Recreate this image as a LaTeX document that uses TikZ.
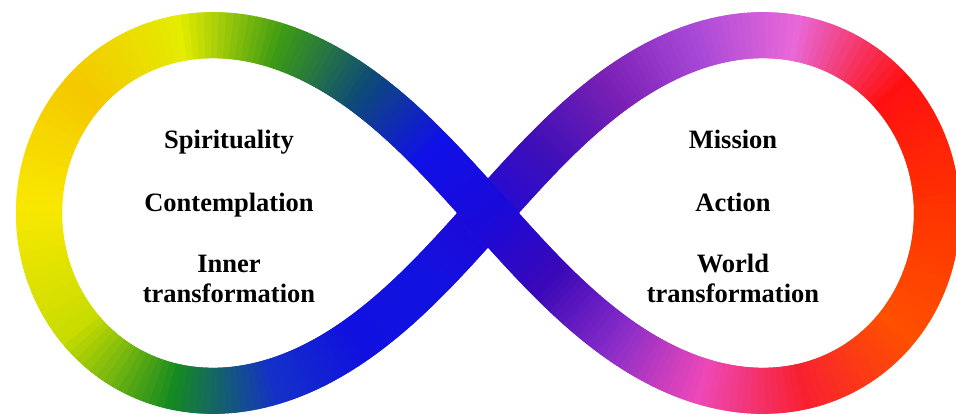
\documentclass[tikz,border=0pt]{standalone}
\usepackage{fontspec}
\setmainfont{Liberation Serif}
\definecolor{s0}{HTML}{FF3300}
\definecolor{s1}{HTML}{FF1010}
\definecolor{s2}{HTML}{E868D8}
\definecolor{s3}{HTML}{A848D8}
\definecolor{s4}{HTML}{7A20B4}
\definecolor{s5}{HTML}{4010B8}
\definecolor{s6}{HTML}{2008D8}
\definecolor{s7}{HTML}{1212E0}
\definecolor{s8}{HTML}{1010E0}
\definecolor{s9}{HTML}{1430C8}
\definecolor{s10}{HTML}{158A20}
\definecolor{s11}{HTML}{C8DC00}
\definecolor{s12}{HTML}{F8E800}
\definecolor{s13}{HTML}{F5C800}
\definecolor{s14}{HTML}{E4EC00}
\definecolor{s15}{HTML}{3C9A14}
\definecolor{s16}{HTML}{0E4A78}
\definecolor{s17}{HTML}{1010E8}
\definecolor{s18}{HTML}{1A0ADA}
\definecolor{s19}{HTML}{3A08B8}
\definecolor{s20}{HTML}{8A2CC8}
\definecolor{s21}{HTML}{EE48B8}
\definecolor{s22}{HTML}{F82030}
\definecolor{s23}{HTML}{FF5000}
\begin{document}
\begin{tikzpicture}[x=1pt,y=-1pt,
  declare function={px(\t)=488+449*cos(\t)/(1+sin(\t)^2);
                    py(\t)=213-503*sin(\t)*cos(\t)/(1+sin(\t)^2);},
  band/.style={line width=46pt, line cap=butt, line join=round},
  lbl/.style={font=\bfseries\fontsize{26.5}{30}\selectfont, align=center, text=black, inner sep=0pt}]
\useasboundingbox[fill=white] (0,0) rectangle (956,418);
\foreach \i in {0,...,23}{
  \pgfmathtruncatemacro{\j}{mod(\i+1,24)}
  \foreach \k in {0,...,14}{
    \pgfmathsetmacro{\ta}{15*\i+\k}
    \pgfmathsetmacro{\p}{100*\k/15}
    \colorlet{segc}{s\j!\p!s\i}
    \draw[band, segc] ({px(\ta)},{py(\ta)}) -- ({px(\ta+1)},{py(\ta+1)}) -- ({px(\ta+2)},{py(\ta+2)});
  }
}
\node[lbl, anchor=base] (spir) at (229,148) {Spirituality};
\node[lbl, anchor=base] (cont) at (229,211) {Contemplation};
\node[lbl, anchor=base] (inner) at (229,302) {Inner\\transformation};
\node[lbl, anchor=base] (miss) at (733,148) {Mission};
\node[lbl, anchor=base] (act) at (733,211) {Action};
\node[lbl, anchor=base] (world) at (733,302) {World\\transformation};
\end{tikzpicture}
\end{document}
